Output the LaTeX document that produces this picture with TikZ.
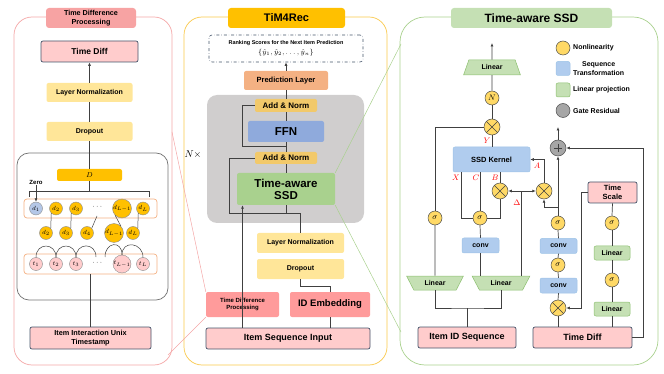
\documentclass[tikz,border=0pt]{standalone}
\usepackage{fontspec}
\setmainfont{Liberation Sans}
\usepackage{amsmath,amssymb}
\usetikzlibrary{arrows.meta,positioning,shapes.geometric}

\definecolor{pinkfill}{HTML}{FFCCCC}
\definecolor{salmonfill}{HTML}{FF9B9B}
\definecolor{titlepink}{HTML}{F7A3A3}
\definecolor{navyline}{HTML}{44546A}
\definecolor{yellowfill}{HTML}{FFE699}
\definecolor{goldfill}{HTML}{FFC000}
\definecolor{normfill}{HTML}{F2C96A}
\definecolor{ffnfill}{HTML}{8FAADC}
\definecolor{ssdfill}{HTML}{A9D18E}
\definecolor{predfill}{HTML}{F4B183}
\definecolor{grayfill}{HTML}{D0CECE}
\definecolor{seqfill}{HTML}{B0CCEE}
\definecolor{seqline}{HTML}{9DC3E6}
\definecolor{linfill}{HTML}{C5E0B4}
\definecolor{linline}{HTML}{8CBF6F}
\definecolor{nonlin}{HTML}{FFD966}
\definecolor{gatefill}{HTML}{A6A6A6}
\definecolor{dblue}{HTML}{B4C7E7}
\definecolor{wirecol}{HTML}{404040}
\definecolor{pinkline}{HTML}{F4A6A6}
\definecolor{yellowline}{HTML}{F9C84B}
\definecolor{greenline}{HTML}{A9D18E}
\definecolor{rowline}{HTML}{F4B183}

\begin{document}
\begin{tikzpicture}[x=1pt, y=-1pt,
  every node/.style={font=\bfseries\fontsize{7}{8}\selectfont, inner sep=1pt},
  panel/.style={draw=#1, line width=0.7pt, rounded corners=18pt},
  title/.style={fill=#1, rounded corners=3pt, minimum height=20pt, align=center},
  block/.style={rounded corners=2pt, align=center},
  pinkbox/.style={block, fill=pinkfill, draw=navyline, line width=0.7pt},
  yellowbox/.style={block, fill=yellowfill, minimum width=86pt, minimum height=19pt},
  seqbox/.style={block, fill=seqfill, draw=seqline, line width=0.5pt, minimum width=37pt, minimum height=15pt},
  linbox/.style={block, fill=linfill, draw=linline, line width=0.5pt, minimum width=36pt, minimum height=14pt},
  lin/.style={trapezium, trapezium stretches=true, fill=linfill, draw=linline, line width=0.5pt, minimum height=14pt, inner sep=0pt},
  sig/.style={circle, fill=nonlin, draw=black!70, line width=0.5pt, minimum size=14pt, inner sep=0pt, font=\fontsize{8}{8}\selectfont},
  mult/.style={sig, minimum size=16pt, path picture={\draw[line width=0.6pt, wirecol] (path picture bounding box.north west) -- (path picture bounding box.south east) (path picture bounding box.north east) -- (path picture bounding box.south west);}},
  gate/.style={circle, fill=gatefill, draw=black!70, line width=0.5pt, minimum size=16pt, inner sep=0pt, path picture={\draw[line width=0.6pt, wirecol] ([yshift=-4pt]path picture bounding box.north) -- ([yshift=4pt]path picture bounding box.south) ([xshift=4pt]path picture bounding box.west) -- ([xshift=-4pt]path picture bounding box.east);}},
  dnode/.style={circle, fill=goldfill, draw=black!45, line width=0.4pt, minimum size=13pt, inner sep=0pt, font=\fontsize{6}{6}\selectfont},
  tnode/.style={dnode, fill=pinkfill},
  rowbox/.style={draw=rowline, line width=0.7pt, rounded corners=3pt, minimum width=133pt},
  wire/.style={draw=wirecol, line width=0.7pt},
  arrow/.style={wire, -{Latex[length=3.5pt, width=3pt]}},
  lbl/.style={text=red, font=\fontsize{8}{8}\selectfont},
  link/.style={line width=0.5pt}
]
\useasboundingbox (0,0) rectangle (664,374);

% panels
\draw[panel=pinkline] (14,17) rectangle (172,365);
\draw[panel=yellowline] (184,17) rectangle (387,365);
\draw[panel=greenline, rounded corners=25pt] (400,17) rectangle (658,365);
\draw[draw=black!55, line width=0.7pt, rounded corners=12pt] (17,153) rectangle (168,300);

\node[title=titlepink, minimum width=90pt, font=\bfseries\fontsize{7.2}{8.8}\selectfont] (ttlL) at (91,18) {Time Difference\\Processing};
\node[title=goldfill, minimum width=117pt, font=\bfseries\fontsize{11}{12}\selectfont] (ttlM) at (286.5,18) {TiM4Rec};
\node[title=linfill, minimum width=161pt, font=\bfseries\fontsize{12}{13}\selectfont] (ttlR) at (531.5,18) {Time-aware SSD};

% left: time difference processing
\node[pinkbox, minimum width=97pt, minimum height=21pt, font=\bfseries\fontsize{8.5}{9}\selectfont] (tdL) at (89.5,51.5) {Time Diff};
\node[yellowbox] (lnL) at (89.5,92.5) {Layer Normalization};
\node[yellowbox] (drL) at (89.5,131.5) {Dropout};
\node[block, fill=goldfill, minimum width=65pt, minimum height=12pt, font=\fontsize{7}{7}\selectfont] (dbar) at (89.5,175) {$D$};
\node[rowbox, minimum height=19pt] (rowD) at (90.5,208.5) {};
\node[rowbox, minimum height=20pt] (rowT) at (90.5,264) {};
\foreach \i/\x/\lab/\col in {1/36/1/dblue, 2/56/2/goldfill, 3/76/3/goldfill, 4/122/{L-1}/goldfill, 5/143/L/goldfill} {
  \node[dnode, fill=\col] (d\i) at (\x,208.5) {$d_{\lab}$};
  \node[tnode] (t\i) at (\x,264) {$t_{\lab}$};
}
\foreach \i/\x/\lab in {2/46/2, 3/66/3, 4/87/4, 5/114/{L-1}, 6/133/L}
  \node[dnode] (m\i) at (\x,233) {$d_{\lab}$};
\node (dotsD) at (98,207) {$\cdots$};
\node (dotsT) at (98,263) {$\cdots$};
\coordinate (dd) at (97,216);
\coordinate (a1) at (96,257);
\coordinate (a2) at (105,257);
\node[font=\bfseries\fontsize{6}{6}\selectfont] (zero) at (36,182) {Zero};
\node[pinkbox, minimum width=121pt, minimum height=22pt, font=\bfseries\fontsize{7.3}{8.5}\selectfont] (iiL) at (90.5,338) {Item Interaction Unix\\Timestamp};

\draw[arrow] (lnL.north) -- (tdL.south);
\draw[wire] (drL.north) -- (lnL.south);
\draw[wire] (dbar.north) -- (drL.south);
\draw[wire] (dbar.south) -- ++(0,11);
\draw[wire] ([xshift=6pt,yshift=2pt]rowD.north west) |- ([xshift=-8pt,yshift=7pt]rowD.north east) -- ([xshift=-8pt,yshift=2pt]rowD.north east);
\draw[arrow] (zero.south) -- (d1.north);
\draw[wire, line width=0.5pt] (m2.north east) -- (d2.south west);
\draw[wire, line width=0.5pt] (m3.north east) -- (d3.south west);
\draw[wire, line width=0.5pt] (m4.north east) -- (dd);
\draw[wire, line width=0.5pt] (m5.north east) -- (d4.south west);
\draw[wire, line width=0.5pt] (m6.north east) -- (d5.south west);
\draw[wire, line width=0.5pt] (t1.north) .. controls +(0,-15) and +(0,-15) .. (t2.north);
\draw[wire, line width=0.5pt] (t2.north) .. controls +(0,-15) and +(0,-15) .. (t3.north);
\draw[wire, line width=0.5pt] (t3.north) .. controls +(0,-15) and +(0,-15) .. (a1);
\draw[wire, line width=0.5pt] (a2) .. controls +(0,-15) and +(0,-15) .. (t4.north);
\draw[wire, line width=0.5pt] (t4.north) .. controls +(0,-15) and +(0,-15) .. (t5.north);
\draw[wire] (rowT.south) -- (iiL.north);

% middle: TiM4Rec
\node[block, draw=navyline, dash dot, line width=0.6pt, rounded corners=3pt, minimum width=154pt, minimum height=27pt, font=\bfseries\fontsize{5.5}{10}\selectfont] (rank) at (286,48.5) {Ranking Scores for the Next Item Prediction\\{\mdseries\fontsize{7.5}{10}\selectfont $\{\hat{y}_1, \hat{y}_2, \ldots, \hat{y}_n\}$}};
\node[block, fill=predfill, minimum width=84pt, minimum height=19pt, font=\bfseries\fontsize{7.5}{8}\selectfont] (pred) at (286,80.5) {Prediction Layer};
\node[fill=grayfill, rounded corners=10pt, minimum width=157pt, minimum height=128pt] (stack) at (285.5,159) {};
\node[block, fill=normfill, minimum width=62pt, minimum height=13pt, font=\bfseries\fontsize{8}{8}\selectfont] (an1) at (286,105.5) {Add \& Norm};
\node[block, fill=ffnfill, minimum width=76pt, minimum height=21pt, font=\bfseries\fontsize{11.5}{12}\selectfont] (ffn) at (286,131.5) {FFN};
\node[block, fill=normfill, minimum width=62pt, minimum height=12pt, font=\bfseries\fontsize{8}{8}\selectfont] (an2) at (286,158) {Add \& Norm};
\node[block, fill=ssdfill, minimum width=98pt, minimum height=32pt, font=\bfseries\fontsize{11.5}{12}\selectfont] (ssdm) at (286,189) {Time-aware\\SSD};
\node[font=\fontsize{10}{10}\selectfont] (nx) at (193,155) {$N\times$};
\node[yellowbox, minimum width=87pt, minimum height=20pt] (ln2) at (300.5,243) {Layer Normalization};
\node[yellowbox, minimum width=87pt, minimum height=20pt] (dr2) at (300.5,269) {Dropout};
\node[block, fill=salmonfill, minimum width=73pt, minimum height=25pt, font=\bfseries\fontsize{6}{7.5}\selectfont] (tdps) at (242.5,304.5) {Time Difference\\Processing};
\node[block, fill=salmonfill, minimum width=80pt, minimum height=25pt, font=\bfseries\fontsize{9.5}{10}\selectfont] (ide) at (330,304.5) {ID Embedding};
\node[pinkbox, minimum width=164pt, minimum height=21pt, font=\bfseries\fontsize{9}{10}\selectfont] (isi) at (288,338.5) {Item Sequence Input};

\draw[arrow] (pred.north) -- (rank.south);
\draw[wire] (an1.north) -- (pred.south);
\draw[wire] (ffn.north) -- (an1.south);
\draw[wire] (an2.north) -- (ffn.south);
\draw[wire] (ssdm.north) -- (an2.south);
\coordinate (r1) at (286,146);
\draw[wire] (r1) -| ([xshift=-12pt]an1.west) -- (an1.west);
\coordinate (j2) at (286,213);
\draw[wire] (ln2.north) |- (j2) -- (ssdm.south);
\draw[wire] (j2) -- ++(-57,0) |- (an2.west);
\draw[wire] (dr2.south) -- ++(0,7) -| (ide.north);
\draw[wire] (isi.north -| ide.south) -- (ide.south);
\draw[arrow] (isi.north -| tdps.south) -- (ssdm.south -| tdps.south);

% links between panels
\coordinate (pA) at (172,132);
\coordinate (pB) at (168,355);
\draw[pinkline, link] (pA) -- (tdps.north west);
\draw[pinkline, link] (pB) -- (tdps.south west);
\coordinate (gA) at (401,44);
\coordinate (gB) at (401,332);
\draw[greenline, link] (ssdm.north east) -- (gA);
\draw[greenline, link] (ssdm.south east) -- (gB);

% right: time-aware SSD
\node[lin, trapezium left angle=65, trapezium right angle=65, minimum width=57pt, minimum height=15pt] (lin0) at (492,67.5) {Linear};
\node[sig] (nN) at (492,98) {$N$};
\node[mult] (mY) at (492,127) {};
\node[seqbox, minimum width=77pt, minimum height=25pt, font=\bfseries\fontsize{7.5}{8}\selectfont] (kern) at (491.5,159.5) {SSD Kernel};
\node[mult] (mB) at (500,191) {};
\node[mult] (mA) at (544,191) {};
\node[sig] (sL) at (435,218) {$\sigma$};
\node[sig] (sM) at (480,218) {$\sigma$};
\node[seqbox] (conv1) at (480.5,245.5) {conv};
\node[lin, shape border rotate=180, trapezium left angle=55, trapezium right angle=55, minimum width=57pt] (linL) at (435,283) {Linear};
\node[lin, shape border rotate=180, trapezium left angle=55, trapezium right angle=55, minimum width=58pt] (linM) at (501,283) {Linear};
\node[pinkbox, minimum width=98pt, minimum height=21pt, font=\bfseries\fontsize{9}{10}\selectfont] (iid) at (467,337.5) {Item ID Sequence};
\node[pinkbox, minimum width=99pt, minimum height=21pt, font=\bfseries\fontsize{9}{10}\selectfont] (tdR) at (582.5,337.5) {Time Diff};
\node[mult] (mT) at (558,308) {};
\node[seqbox] (conv3) at (558.5,285.5) {conv};
\node[sig] (s3) at (558,265) {$\sigma$};
\node[seqbox] (conv2) at (558.5,246) {conv};
\node[sig] (s2) at (558,223) {$\sigma$};
\node[gate] (pl) at (558,148) {};
\node[linbox] (linB) at (612,309) {Linear};
\node[sig] (sB) at (612,280) {$\sigma$};
\node[linbox] (linT) at (612,253) {Linear};
\node[sig] (sT) at (612,223) {$\sigma$};
\node[pinkbox, minimum width=49pt, minimum height=21pt, font=\bfseries\fontsize{7.5}{8.5}\selectfont] (ts) at (612.5,192.5) {Time\\Scale};

\node[lbl] (lY) at (487,141) {$Y$};
\node[lbl] (lX) at (456,178) {$X$};
\node[lbl] (lC) at (476,178) {$C$};
\node[lbl] (lB) at (495,178) {$B$};
\node[lbl] (lD) at (517,203) {$\Delta$};
\node[lbl] (lA) at (537,166) {$A$};

\coordinate (out0) at (492,43);
\draw[arrow] (lin0.north) -- (out0);
\draw[wire] (nN.north) -- (lin0.south);
\draw[wire] (mY.north) -- (nN.south);
\draw[wire] (kern.north -| mY) -- (mY.south);
\draw[wire] (sL.north) |- (mY.west);
\draw[wire] (linL.north) -- (sL.south);
\draw[wire] (linM.north -| conv1) -- (conv1.south);
\draw[wire] (conv1.north) -- (sM.south);
\draw[wire] (sM.west) -| ([xshift=9pt]kern.south west);
\draw[wire] (sM.north) -- (sM.north |- kern.south);
\draw[wire] (sM.east) -| (mB.south);
\draw[wire] (mB.north) -- (mB.north |- kern.south);
\coordinate (dl) at (521,191);
\draw[wire] (linM.north -| dl) -- (dl);
\draw[arrow] (dl) -- (mB.east);
\draw[arrow] (dl) -- (mA.west);
\draw[arrow] (mA.north) |- (kern.east);

\draw[wire] (tdR.north -| mT) -- (mT.south);
\draw[wire] (mT.north) -- (conv3.south);
\draw[wire] (conv3.north) -- (s3.south);
\draw[wire] (s3.north) -- (conv2.south);
\draw[wire] (conv2.north) -- (s2.south);
\draw[arrow] (s2.north) -- (pl.south);
\coordinate (br) at (558,207);
\draw[arrow] (br) -| (mA.south);
\coordinate (out1) at (558,127);
\draw[arrow] (pl.north) -- (out1);
\draw[arrow] (tdR.east) -- ++(11,0) |- (pl.east);

\draw[wire] (tdR.north -| linB) -- (linB.south);
\draw[wire] (linB.north) -- (sB.south);
\draw[wire] (sB.north) -- (linT.south);
\draw[wire] (linT.north) -- (sT.south);
\draw[wire] (sT.north) -- (ts.south);
\draw[arrow] (ts.west) -- ++(-6,0) |- (mT.east);

\coordinate (jn) at (467,308);
\draw[wire] (linL.south) |- (jn) -| (linM.south);
\draw[wire] (jn) -- (iid.north);

% legend
\node[sig] (lg1) at (563,48) {};
\node[anchor=west] (lg1t) at (572,48) {Nonlinearity};
\node[seqbox, minimum width=14pt, minimum height=14pt] (lg2) at (563,68.5) {};
\node[anchor=west, align=center, font=\bfseries\fontsize{7}{9}\selectfont] (lg2t) at (572,68.5) {Sequence\\Transformation};
\node[linbox, minimum width=14pt, minimum height=14pt] (lg3) at (563,90) {};
\node[anchor=west] (lg3t) at (572,90) {Linear projection};
\node[circle, fill=gatefill, draw=black!70, line width=0.5pt, minimum size=14pt, inner sep=0pt] (lg4) at (563,110.5) {};
\node[anchor=west] (lg4t) at (572,110.5) {Gate Residual};
\end{tikzpicture}
\end{document}
